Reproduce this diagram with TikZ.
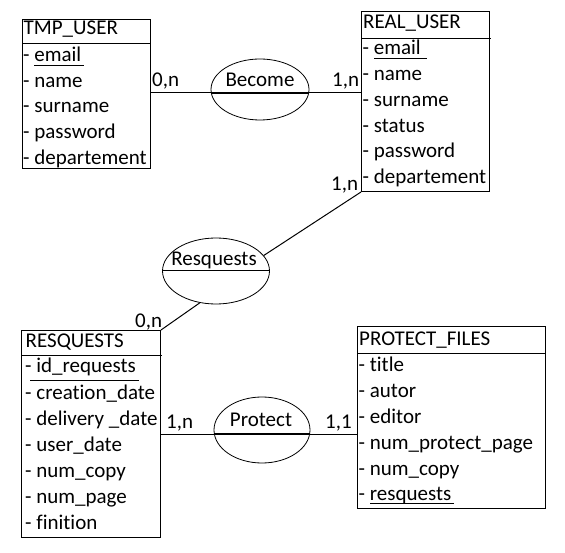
\documentclass[tikz,border=0pt]{standalone}
\usepackage{fontspec}
\setmainfont{Carlito}[Ligatures={NoCommon,NoRare}, RawFeature={-liga;-dlig;-clig}]
\usetikzlibrary{shapes.geometric}
\begin{document}
\begin{tikzpicture}[x=1pt,y=-1pt,
  every node/.style={font=\fontsize{21}{24}\selectfont},
  ent/.style={draw, line width=1pt, rectangle, inner sep=0pt, anchor=north west},
  rel/.style={draw, line width=0.8pt, ellipse, inner sep=0pt},
  txt/.style={anchor=base west, inner sep=0pt},
  lbl/.style={anchor=base, inner sep=0pt},
  conn/.style={line width=1pt},
  chord/.style={line width=2pt},
  uline/.style={line width=1pt}]
\useasboundingbox (0,0) rectangle (565,553);

% ---- entities
\node[ent, minimum width=128pt, minimum height=149pt] (tmp) at (22,19) {};
\node[ent, minimum width=128pt, minimum height=180pt] (real) at (361,11) {};
\node[ent, minimum width=139pt, minimum height=207pt] (resqbox) at (21,330) {};
\node[ent, minimum width=188pt, minimum height=182pt] (prot) at (357,326) {};

% header lines
\draw[conn] (22,44) -- (150,44);
\draw[conn] (361,39) -- (491,39);
\draw[conn] (21,355) -- (162,355);
\draw[conn] (357,353) -- (545,353);

% TMP_USER texts
\node[txt] (tmpT) at (23.5,35) {TMP\_USER};
\node[txt] (tmp1) at (23,62) {- email};
\node[txt] (tmp2) at (23,87.5) {- name};
\node[txt] (tmp3) at (23,113) {- surname};
\node[txt] (tmp4) at (23,139) {- password};
\node[txt] (tmp5) at (23,165) {- departement};
\draw[uline] (34,66) -- (84,66);

% REAL_USER texts
\node[txt] (realT) at (363,29) {REAL\_USER};
\node[txt] (real1) at (362.5,55) {- email};
\node[txt] (real2) at (362.5,81) {- name};
\node[txt] (real3) at (362.5,107) {- surname};
\node[txt] (real4) at (362.5,132.5) {- status};
\node[txt] (real5) at (362.5,158) {- password};
\node[txt] (real6) at (362.5,184) {- departement};
\draw[uline] (374,59) -- (427,59);

% RESQUESTS texts
\node[txt] (resqT) at (25.5,348) {RESQUESTS};
\node[txt] (resq1) at (25,373) {- id\_requests};
\node[txt] (resq2) at (25,399) {- creation\_date};
\node[txt] (resq3) at (25,425) {- delivery \_date};
\node[txt] (resq4) at (25,451) {- user\_date};
\node[txt] (resq5) at (25,477) {- num\_copy};
\node[txt] (resq6) at (25,503) {- num\_page};
\node[txt] (resq7) at (25,529) {- finition};
\draw[uline] (30,380) -- (139,380);

% PROTECT_FILES texts
\node[txt] (protT) at (359,345) {PROTECT\_FILES};
\node[txt] (prot1) at (358.5,371) {- title};
\node[txt] (prot2) at (358.5,397) {- autor};
\node[txt] (prot3) at (358.5,423) {- editor};
\node[txt] (prot4) at (358.5,449) {- num\_protect\_page};
\node[txt] (prot5) at (358.5,475) {- num\_copy};
\node[txt] (prot6) at (358.5,500.5) {- resquests};
\draw[uline] (370,503) -- (454,503);

% ---- relations
\node[rel, minimum width=98pt, minimum height=61pt] (become) at (260,89.5) {};
\node[rel, minimum width=107pt, minimum height=66pt] (resq) at (216,271) {};
\node[rel, minimum width=96pt, minimum height=66pt] (protect) at (262,430) {};

\node[lbl] (becomeT) at (260,87) {Become};
\node[lbl] (resqT2) at (214,266) {Resquests};
\node[lbl] (protectT) at (261,426) {Protect};

\coordinate (becomeL) at (211,93);
\coordinate (becomeR) at (309,93);
\coordinate (protectL) at (214,434);
\coordinate (protectR) at (310,434);

% connectors
\draw[conn] (tmp.east |- becomeL) -- (becomeL);
\draw[chord] (becomeL) -- (becomeR);
\draw[conn] (becomeR) -- (real.west |- becomeR);

\draw[conn] (resq.west) -- (resq.east);
\draw[conn] (real.south west) -- (resq.18);
\draw[conn] (resq.243) -- (resqbox.north east);

\draw[conn] (resqbox.east |- protectL) -- (protectL);
\draw[chord] (protectL) -- (protectR);
\draw[conn] (protectR) -- (prot.west |- protectR);

% cardinalities
\node[txt] (c1) at (152,87) {0,n};
\node[txt] (c2) at (332,87) {1,n};
\node[txt] (c3) at (331,191) {1,n};
\node[txt] (c4) at (135,327) {0,n};
\node[txt] (c5) at (166,428) {1,n};
\node[txt] (c6) at (325,428) {1,1};
\end{tikzpicture}
\end{document}
